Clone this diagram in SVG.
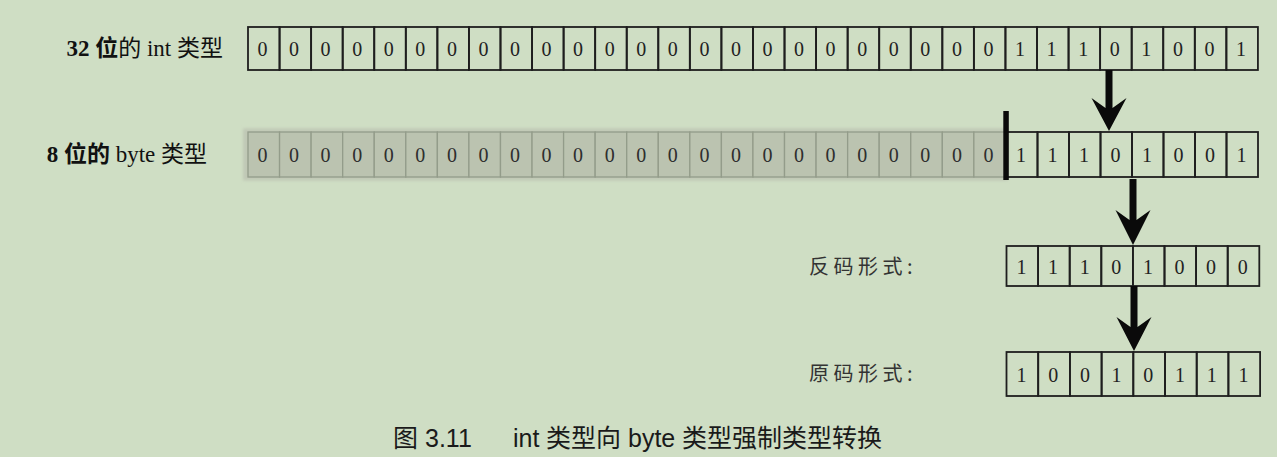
<svg xmlns="http://www.w3.org/2000/svg" width="1277" height="457" viewBox="0 0 1277 457">
<defs>
<style>
.cell{fill:none;stroke:#1e1e1e;stroke-width:1.8}
.gcell{fill:#bbc3b0;stroke:#939c8a;stroke-width:1.3}
.d{font-family:"Liberation Serif","DejaVu Serif",serif;font-size:20px;fill:#222;text-anchor:middle}
.gd{fill:#2e2e2e}
.lbl{font-family:"Liberation Serif","Noto Sans CJK SC",serif;font-size:23px;fill:#111}
.cn{font-family:"Noto Sans CJK SC","Liberation Sans",sans-serif;font-size:20px;fill:#333;letter-spacing:4.5px}
.cap{font-family:"Liberation Sans","Noto Sans CJK SC",sans-serif;font-size:25px;fill:#1a1a1a}
.arr{fill:#0a0a0a}
</style>
<filter id="soft" x="-5%" y="-30%" width="110%" height="160%"><feGaussianBlur stdDeviation="1.6"/></filter>
</defs>
<rect width="1277" height="457" fill="#cfdec4"/>

<g id="label-int">
<text class="lbl" x="223" y="56" text-anchor="end"><tspan font-weight="bold">32 位</tspan>的 int 类型</text>
</g>
<g id="label-byte">
<text class="lbl" x="207" y="162" text-anchor="end"><tspan font-weight="bold">8 位的</tspan> byte 类型</text>
</g>
<g id="label-fanma">
<text class="cn" x="809" y="274">反码形式:</text>
</g>
<g id="label-yuanma">
<text class="cn" x="809" y="381">原码形式:</text>
</g>

<!-- Row A: 32-bit int -->
<g id="row-int">
<rect class="cell" x="248" y="27" width="31.56" height="43"/><rect class="cell" x="279.56" y="27" width="31.56" height="43"/><rect class="cell" x="311.12" y="27" width="31.56" height="43"/><rect class="cell" x="342.68" y="27" width="31.56" height="43"/><rect class="cell" x="374.24" y="27" width="31.56" height="43"/><rect class="cell" x="405.8" y="27" width="31.56" height="43"/><rect class="cell" x="437.36" y="27" width="31.56" height="43"/><rect class="cell" x="468.92" y="27" width="31.56" height="43"/><rect class="cell" x="500.48" y="27" width="31.56" height="43"/><rect class="cell" x="532.04" y="27" width="31.56" height="43"/><rect class="cell" x="563.6" y="27" width="31.56" height="43"/><rect class="cell" x="595.16" y="27" width="31.56" height="43"/><rect class="cell" x="626.72" y="27" width="31.56" height="43"/><rect class="cell" x="658.28" y="27" width="31.56" height="43"/><rect class="cell" x="689.84" y="27" width="31.56" height="43"/><rect class="cell" x="721.4" y="27" width="31.56" height="43"/><rect class="cell" x="752.96" y="27" width="31.56" height="43"/><rect class="cell" x="784.52" y="27" width="31.56" height="43"/><rect class="cell" x="816.08" y="27" width="31.56" height="43"/><rect class="cell" x="847.64" y="27" width="31.56" height="43"/><rect class="cell" x="879.2" y="27" width="31.56" height="43"/><rect class="cell" x="910.76" y="27" width="31.56" height="43"/><rect class="cell" x="942.32" y="27" width="31.56" height="43"/><rect class="cell" x="973.88" y="27" width="31.56" height="43"/><rect class="cell" x="1005.44" y="27" width="31.56" height="43"/><rect class="cell" x="1037" y="27" width="31.56" height="43"/><rect class="cell" x="1068.56" y="27" width="31.56" height="43"/><rect class="cell" x="1100.12" y="27" width="31.56" height="43"/><rect class="cell" x="1131.68" y="27" width="31.56" height="43"/><rect class="cell" x="1163.24" y="27" width="31.56" height="43"/><rect class="cell" x="1194.8" y="27" width="31.56" height="43"/><rect class="cell" x="1226.36" y="27" width="31.56" height="43"/>
<text class="d" y="55.5"><tspan x="262.5">0</tspan><tspan x="294">0</tspan><tspan x="325.6">0</tspan><tspan x="357.2">0</tspan><tspan x="388.7">0</tspan><tspan x="420.3">0</tspan><tspan x="451.9">0</tspan><tspan x="483.4">0</tspan><tspan x="515">0</tspan><tspan x="546.6">0</tspan><tspan x="578.1">0</tspan><tspan x="609.7">0</tspan><tspan x="641.3">0</tspan><tspan x="672.8">0</tspan><tspan x="704.4">0</tspan><tspan x="736">0</tspan><tspan x="767.5">0</tspan><tspan x="799.1">0</tspan><tspan x="830.6">0</tspan><tspan x="862.2">0</tspan><tspan x="893.8">0</tspan><tspan x="925.3">0</tspan><tspan x="956.9">0</tspan><tspan x="988.5">0</tspan><tspan x="1020">1</tspan><tspan x="1051.6">1</tspan><tspan x="1083.2">1</tspan><tspan x="1114.7">0</tspan><tspan x="1146.3">1</tspan><tspan x="1177.9">0</tspan><tspan x="1209.4">0</tspan><tspan x="1241">1</tspan></text>
</g>

<!-- Row B: 8-bit byte -->
<g id="row-byte">
<rect x="243" y="128.5" width="765" height="52" fill="#c0c8b5" filter="url(#soft)"/>
<rect class="gcell" x="248" y="132" width="31.56" height="45"/><rect class="gcell" x="279.56" y="132" width="31.56" height="45"/><rect class="gcell" x="311.12" y="132" width="31.56" height="45"/><rect class="gcell" x="342.68" y="132" width="31.56" height="45"/><rect class="gcell" x="374.24" y="132" width="31.56" height="45"/><rect class="gcell" x="405.8" y="132" width="31.56" height="45"/><rect class="gcell" x="437.36" y="132" width="31.56" height="45"/><rect class="gcell" x="468.92" y="132" width="31.56" height="45"/><rect class="gcell" x="500.48" y="132" width="31.56" height="45"/><rect class="gcell" x="532.04" y="132" width="31.56" height="45"/><rect class="gcell" x="563.6" y="132" width="31.56" height="45"/><rect class="gcell" x="595.16" y="132" width="31.56" height="45"/><rect class="gcell" x="626.72" y="132" width="31.56" height="45"/><rect class="gcell" x="658.28" y="132" width="31.56" height="45"/><rect class="gcell" x="689.84" y="132" width="31.56" height="45"/><rect class="gcell" x="721.4" y="132" width="31.56" height="45"/><rect class="gcell" x="752.96" y="132" width="31.56" height="45"/><rect class="gcell" x="784.52" y="132" width="31.56" height="45"/><rect class="gcell" x="816.08" y="132" width="31.56" height="45"/><rect class="gcell" x="847.64" y="132" width="31.56" height="45"/><rect class="gcell" x="879.2" y="132" width="31.56" height="45"/><rect class="gcell" x="910.76" y="132" width="31.56" height="45"/><rect class="gcell" x="942.32" y="132" width="31.56" height="45"/><rect class="gcell" x="973.88" y="132" width="31.56" height="45"/>
<rect class="cell" x="1006" y="132" width="31.5" height="45"/><rect class="cell" x="1037.5" y="132" width="31.5" height="45"/><rect class="cell" x="1069" y="132" width="31.5" height="45"/><rect class="cell" x="1100.5" y="132" width="31.5" height="45"/><rect class="cell" x="1132" y="132" width="31.5" height="45"/><rect class="cell" x="1163.5" y="132" width="31.5" height="45"/><rect class="cell" x="1195" y="132" width="31.5" height="45"/><rect class="cell" x="1226.5" y="132" width="31.5" height="45"/>
<text class="d gd" y="161.5"><tspan x="262.5">0</tspan><tspan x="294">0</tspan><tspan x="325.6">0</tspan><tspan x="357.2">0</tspan><tspan x="388.7">0</tspan><tspan x="420.3">0</tspan><tspan x="451.9">0</tspan><tspan x="483.4">0</tspan><tspan x="515">0</tspan><tspan x="546.6">0</tspan><tspan x="578.1">0</tspan><tspan x="609.7">0</tspan><tspan x="641.3">0</tspan><tspan x="672.8">0</tspan><tspan x="704.4">0</tspan><tspan x="736">0</tspan><tspan x="767.5">0</tspan><tspan x="799.1">0</tspan><tspan x="830.6">0</tspan><tspan x="862.2">0</tspan><tspan x="893.8">0</tspan><tspan x="925.3">0</tspan><tspan x="956.9">0</tspan><tspan x="988.5">0</tspan></text>
<text class="d" y="161.5"><tspan x="1021">1</tspan><tspan x="1052.5">1</tspan><tspan x="1084">1</tspan><tspan x="1115.5">0</tspan><tspan x="1147">1</tspan><tspan x="1178.5">0</tspan><tspan x="1210">0</tspan><tspan x="1241.5">1</tspan></text>
<rect x="1003.3" y="111" width="5.5" height="69" fill="#0a0a0a"/>
</g>

<!-- Row C: ones' complement -->
<g id="row-fanma">
<rect class="cell" x="1006.5" y="246" width="31.6" height="40"/><rect class="cell" x="1038.1" y="246" width="31.6" height="40"/><rect class="cell" x="1069.7" y="246" width="31.6" height="40"/><rect class="cell" x="1101.3" y="246" width="31.6" height="40"/><rect class="cell" x="1132.9" y="246" width="31.6" height="40"/><rect class="cell" x="1164.5" y="246" width="31.6" height="40"/><rect class="cell" x="1196.1" y="246" width="31.6" height="40"/><rect class="cell" x="1227.7" y="246" width="31.6" height="40"/>
<text class="d" y="273.5"><tspan x="1021.5">1</tspan><tspan x="1053.1">1</tspan><tspan x="1084.7">1</tspan><tspan x="1116.3">0</tspan><tspan x="1147.9">1</tspan><tspan x="1179.5">0</tspan><tspan x="1211.1">0</tspan><tspan x="1242.7">0</tspan></text>
</g>

<!-- Row D: sign-magnitude -->
<g id="row-yuanma">
<rect class="cell" x="1006.5" y="352" width="31.7" height="44"/><rect class="cell" x="1038.2" y="352" width="31.7" height="44"/><rect class="cell" x="1069.9" y="352" width="31.7" height="44"/><rect class="cell" x="1101.6" y="352" width="31.7" height="44"/><rect class="cell" x="1133.3" y="352" width="31.7" height="44"/><rect class="cell" x="1165" y="352" width="31.7" height="44"/><rect class="cell" x="1196.7" y="352" width="31.7" height="44"/><rect class="cell" x="1228.4" y="352" width="31.7" height="44"/>
<text class="d" y="381.5"><tspan x="1021.5">1</tspan><tspan x="1053.2">0</tspan><tspan x="1084.9">0</tspan><tspan x="1116.6">1</tspan><tspan x="1148.3">0</tspan><tspan x="1180">1</tspan><tspan x="1211.7">1</tspan><tspan x="1243.4">1</tspan></text>
</g>

<g id="connectors">
<path class="arr" d="M1105.5,70 L1112.5,70 L1112.5,108 L1126.5,98 L1109,131 L1091.5,98 L1105.5,108 Z"/>
<path class="arr" d="M1129.5,179 L1136.5,179 L1136.5,220 L1150.5,210 L1133,245 L1115.5,210 L1129.5,220 Z"/>
<path class="arr" d="M1130.5,286 L1137.5,286 L1137.5,327 L1151.5,317 L1134,351 L1116.5,317 L1130.5,327 Z"/>
</g>

<g id="caption">
<text class="cap" y="447"><tspan x="393">图</tspan><tspan x="425">3.11</tspan><tspan x="513">int</tspan><tspan x="546">类型向</tspan><tspan x="628">byte</tspan><tspan x="682">类型强制类型转换</tspan></text>
</g>
</svg>
